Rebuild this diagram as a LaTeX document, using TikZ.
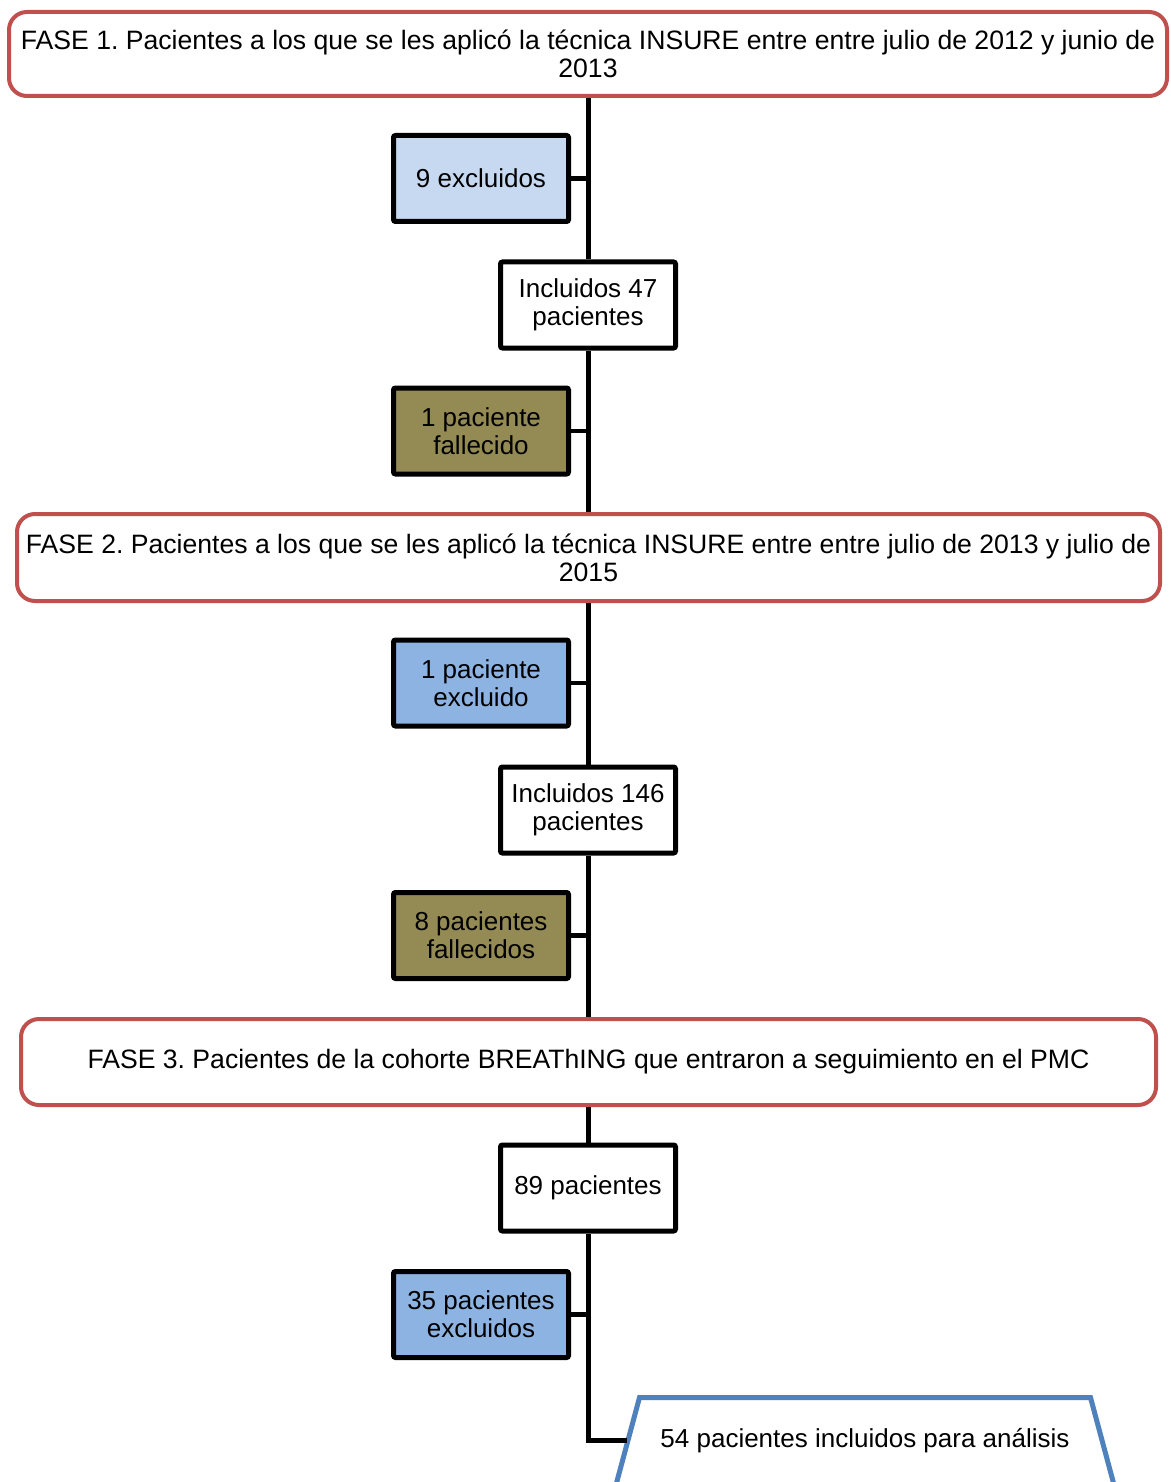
\documentclass[tikz,border=0pt]{standalone}
\usepackage{fontspec}
\setmainfont{Liberation Sans}
\frenchspacing
\definecolor{faseRed}{HTML}{C0504D}
\definecolor{lightBlue}{HTML}{C6D9F1}
\definecolor{midBlue}{HTML}{8DB3E2}
\definecolor{oliveBox}{HTML}{948A54}
\definecolor{trapBlue}{HTML}{4F81BD}
\begin{document}
\begin{tikzpicture}[x=0.5pt,y=-0.5pt,
  every node/.style={font=\fontsize{13pt}{14pt}\selectfont, align=center, inner sep=0pt},
  fasebox/.style={draw=faseRed, line width=2pt, rounded corners=9pt, fill=white, font=\fontsize{13.3pt}{14pt}\selectfont},
  sidebox/.style={draw=black, line width=2.5pt, rounded corners=1pt, minimum width=87.5pt, minimum height=43pt},
  mainbox/.style={sidebox, fill=white},
  spine/.style={draw=black, line width=2.5pt},
  branch/.style={draw=black, line width=2.2pt}]
\useasboundingbox (0,0) rectangle (1171,1482);
\fill[white] (0,0) rectangle (1171,1482);

% phase boxes
\node[fasebox, minimum width=579pt, minimum height=42pt] (fase1) at (588,54)
  {FASE 1. Pacientes a los que se les aplicó la técnica INSURE entre entre julio de 2012 y junio de\\2013};
\node[fasebox, minimum width=571.5pt, minimum height=43.5pt] (fase2) at (588.5,557.5)
  {FASE 2. Pacientes a los que se les aplicó la técnica INSURE entre entre julio de 2013 y julio de\\2015};
\node[fasebox, minimum width=567.5pt, minimum height=43pt] (fase3) at (588.5,1062)
  {FASE 3. Pacientes de la cohorte BREAThING que entraron a seguimiento en el PMC};

% main boxes
\node[mainbox] (inc47) at (588,305) {Incluidos 47\\pacientes};
\node[mainbox] (inc146) at (588,810) {Incluidos 146\\pacientes};
\node[mainbox] (inc89) at (588,1188) {89 pacientes};

% side boxes
\node[sidebox, fill=lightBlue] (exc9) at (481,178.5) {9 excluidos};
\node[sidebox, fill=oliveBox] (fall1) at (481,431) {1 paciente\\fallecido};
\node[sidebox, fill=midBlue] (exc1) at (481,683) {1 paciente\\excluido};
\node[sidebox, fill=oliveBox] (fall8) at (481,935.5) {8 pacientes\\fallecidos};
\node[sidebox, fill=midBlue] (exc35) at (481,1314.5) {35 pacientes\\excluidos};

% final trapezoid
\draw[trapBlue, line width=2.5pt, line join=miter] (616.5,1483) -- (639.5,1397.5) -- (1090.5,1397.5) -- (1113.5,1483);
\node (final) at (865,1441) {54 pacientes incluidos para análisis};
\coordinate (corner) at (588,1440);
\coordinate (finalin) at (627,1440);

% spine
\path[spine] (inc47.north |- fase1.south) -- (inc47.north);
\path[spine] (inc47.south) -- (inc47.south |- fase2.north);
\path[spine] (inc146.north |- fase2.south) -- (inc146.north);
\path[spine] (inc146.south) -- (inc146.south |- fase3.north);
\path[spine] (inc89.north |- fase3.south) -- (inc89.north);
\path[spine, line join=miter] (inc89.south) -- (corner) -- (finalin);

% branches
\path[branch] (exc9.east) -- (exc9.east -| inc47.center);
\path[branch] (fall1.east) -- (fall1.east -| inc47.center);
\path[branch] (exc1.east) -- (exc1.east -| inc47.center);
\path[branch] (fall8.east) -- (fall8.east -| inc47.center);
\path[branch] (exc35.east) -- (exc35.east -| inc47.center);
\end{tikzpicture}
\end{document}
